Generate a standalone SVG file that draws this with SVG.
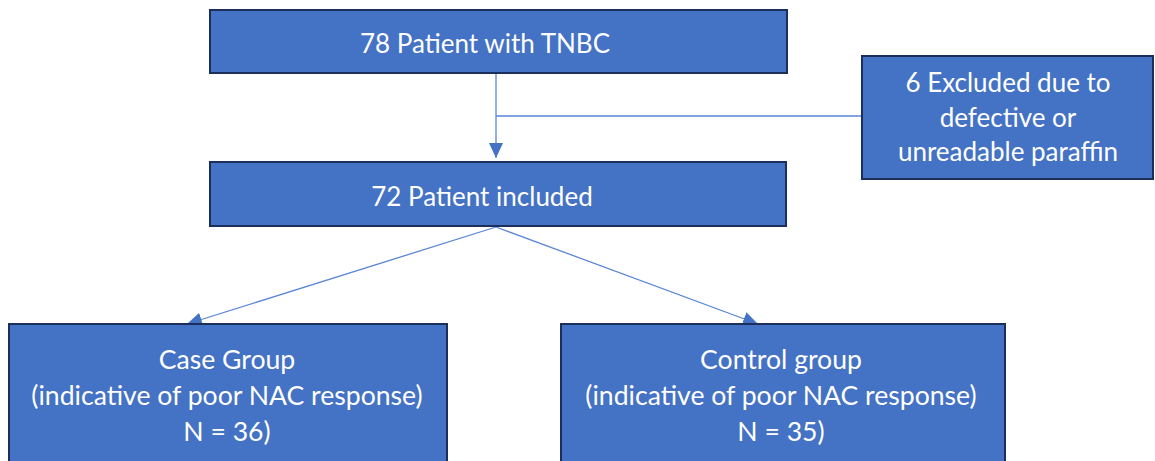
<svg xmlns="http://www.w3.org/2000/svg" width="1155" height="461" viewBox="0 0 1155 461">
  <style>
    .box { fill: #4472C4; stroke: #1C2E5A; stroke-width: 2; }
    .lbl { font-family: Lato, "Open Sans", sans-serif; font-size: 26px; fill: #FFFFFF; text-anchor: middle; }
    .big { font-size: 26.6px; }
    .conn { stroke: #5B86D6; stroke-width: 1.3; fill: none; }
  </style>
  <defs>
    <marker id="arrow" markerUnits="userSpaceOnUse" markerWidth="15" markerHeight="14" refX="15" refY="7" orient="auto">
      <path d="M0,0 L15,7 L0,14 Z" fill="#4472C4"/>
    </marker>
  </defs>
  <rect width="1155" height="461" fill="#FFFFFF"/>

  <g id="connectors">
    <line class="conn" x1="496" y1="74" x2="496" y2="158" marker-end="url(#arrow)"/>
    <line class="conn" x1="496" y1="116" x2="862" y2="116"/>
    <line class="conn" x1="496" y1="227" x2="187" y2="324" marker-end="url(#arrow)"/>
    <line class="conn" x1="496" y1="227" x2="758" y2="324" marker-end="url(#arrow)"/>
  </g>

  <g id="node-tnbc">
    <rect class="box" x="210" y="10" width="577" height="63"/>
    <text class="lbl" x="485" y="53">78 Patient with TNBC</text>
  </g>

  <g id="node-excluded">
    <rect class="box" x="862" y="56" width="291" height="123"/>
    <text class="lbl" x="1008" y="92">6 Excluded due to</text>
    <text class="lbl" x="1008" y="127">defective or</text>
    <text class="lbl" x="1008" y="161">unreadable paraffin</text>
  </g>

  <g id="node-included">
    <rect class="box" x="210" y="162" width="576" height="64"/>
    <text class="lbl" x="482" y="206">72 Patient included</text>
  </g>

  <g id="node-case">
    <rect class="box" x="9" y="324" width="438" height="150"/>
    <text class="lbl big" x="227" y="369">Case Group</text>
    <text class="lbl big" x="227" y="405">(indicative of poor NAC response)</text>
    <text class="lbl big" x="227" y="441">N = 36)</text>
  </g>

  <g id="node-control">
    <rect class="box" x="561" y="324" width="444" height="150"/>
    <text class="lbl big" x="781" y="369">Control group</text>
    <text class="lbl big" x="781" y="405">(indicative of poor NAC response)</text>
    <text class="lbl big" x="781" y="441">N = 35)</text>
  </g>
</svg>
